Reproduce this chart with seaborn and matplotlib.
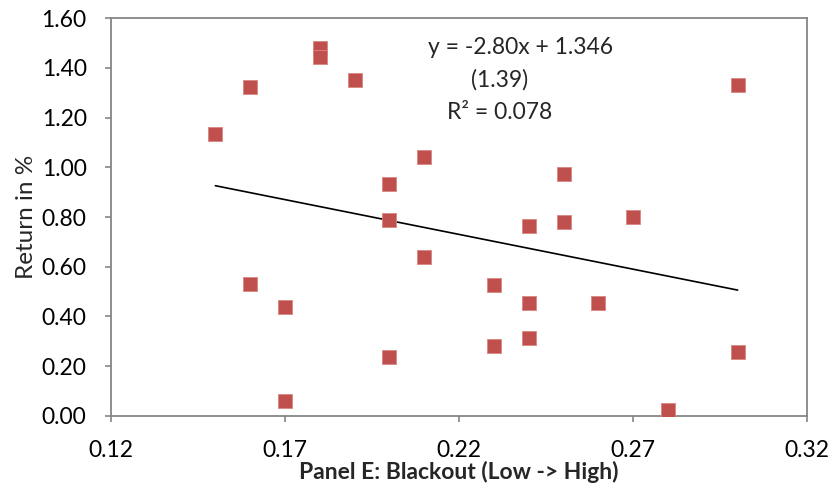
#!/usr/bin/env python3

import numpy as np
import pandas as pd
import seaborn as sb
import matplotlib.pyplot as plt

# blackout level vs. return (%)
blackout = [0.15, 0.16, 0.16, 0.17, 0.17, 0.18, 0.18, 0.19, 0.20, 0.20, 0.20,
            0.21, 0.21, 0.23, 0.23, 0.24, 0.24, 0.24, 0.25, 0.25, 0.26, 0.27,
            0.28, 0.30, 0.30]
returns = [1.135, 1.322, 0.532, 0.439, 0.060, 1.480, 1.445, 1.352, 0.931, 0.787,
           0.238, 1.040, 0.640, 0.525, 0.282, 0.764, 0.455, 0.313, 0.975, 0.778,
           0.455, 0.802, 0.024, 1.330, 0.256]

# fitted trend as printed on the chart
slope = -2.80
intercept = 1.346
eq_lines = ["y = -2.80x + 1.346", "(1.39)", "R\u00b2 = 0.078"]

x_ticks = [0.12, 0.17, 0.22, 0.27, 0.32]
y_ticks = [0.0, 0.2, 0.4, 0.6, 0.8, 1.0, 1.2, 1.4, 1.6]


def doPlot(df, outFile):
    sb.set_style("white")
    plt.rcParams["font.family"] = ["Lato", "DejaVu Sans"]
    fig = plt.figure(figsize=(8.34, 4.91), dpi=100)
    ax = fig.add_axes([0.133, 0.153, 0.835, 0.810])

    # trend line over the data range
    xs = np.array([df["Blackout"].min(), df["Blackout"].max()])
    trend = pd.DataFrame({"Blackout": xs, "Return": slope * xs + intercept})
    sb.lineplot(data=trend, x="Blackout", y="Return", ax=ax,
                color="black", linewidth=1.2)

    sb.scatterplot(data=df, x="Blackout", y="Return", ax=ax, marker="s",
                   s=110, color="#C0504D", edgecolor="#D98683", linewidth=0.6,
                   zorder=3)

    ax.set_xlim(x_ticks[0], x_ticks[-1])
    ax.set_ylim(y_ticks[0], y_ticks[-1])
    ax.set_xticks(x_ticks)
    ax.set_yticks(y_ticks)
    ax.set_xticklabels([f"{t:.2f}" for t in x_ticks])
    ax.set_yticklabels([f"{t:.2f}" for t in y_ticks])
    ax.tick_params(axis="both", labelsize=16.5, colors="#868686",
                   labelcolor="black", length=4.5, width=1.2, direction="out",
                   left=True, bottom=True)
    ax.tick_params(axis="x", pad=13)
    ax.tick_params(axis="y", pad=13)
    for sp in ax.spines.values():
        sp.set_color("#868686")
        sp.set_linewidth(1.3)

    ax.set_xlabel("Panel E: Blackout (Low -> High)", fontsize=16.5,
                  fontweight="bold", labelpad=0)
    ax.set_ylabel("Return in %", fontsize=17.5, labelpad=3)

    for i, line in enumerate(eq_lines):
        xpos = 0.588 if i == 0 else 0.558
        ax.text(xpos, 0.925 - i * 0.081, line, transform=ax.transAxes,
                ha="center", va="center", fontsize=16.5)

    plt.savefig(outFile)


def main():
    df = pd.DataFrame({"Blackout": blackout, "Return": returns})
    doPlot(df, "out.png")


if __name__ == "__main__":
    main()
